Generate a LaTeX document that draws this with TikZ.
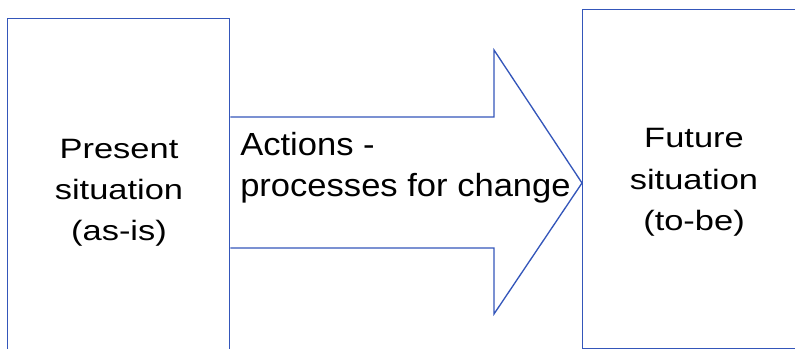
\documentclass[tikz,border=0pt]{standalone}
\usepackage{fontspec}
\newfontfamily\boxfont[FakeStretch=1.23]{Liberation Sans}
\newfontfamily\arrowfont[FakeStretch=1.08]{Liberation Sans}
\definecolor{lineblue}{RGB}{52,86,186}
\begin{document}
\begin{tikzpicture}[x=0.75pt,y=-0.75pt,line join=miter,
  outline/.style={draw=lineblue,line width=1pt},
  box/.style={outline,rectangle,inner sep=0pt,anchor=north west},
  boxtext/.style={inner sep=0pt,align=center,font=\boxfont\fontsize{21}{31}\selectfont},
  arrowtext/.style={inner sep=0pt,align=left,anchor=west,font=\arrowfont\fontsize{24}{31}\selectfont}]
\useasboundingbox (0,0) rectangle (795,349);
\clip (0,0) rectangle (795,349);
% the two states, both running off the page
\node[box,minimum width=166.5pt,minimum height=264pt] (present) at (7,18) {};
\node[box,minimum width=168pt,minimum height=254.25pt] (future) at (582,9) {};
% wide arrow from one state to the other
\draw[outline] (present.north east |- 0,117) -- (494,117) -- (494,50)
  -- (future.north west |- 0,183) -- (494,314) -- (494,248)
  -- (present.north east |- 0,248);
\path
(119,192.6)node[boxtext] (presenttext){Present\\situation\\(as-is)}
(694,182.5)node[boxtext] (futuretext){Future\\situation\\(to-be)}
(240,168)node[arrowtext] (actiontext){Actions -\\processes for change}
;
\end{tikzpicture}
\end{document}
